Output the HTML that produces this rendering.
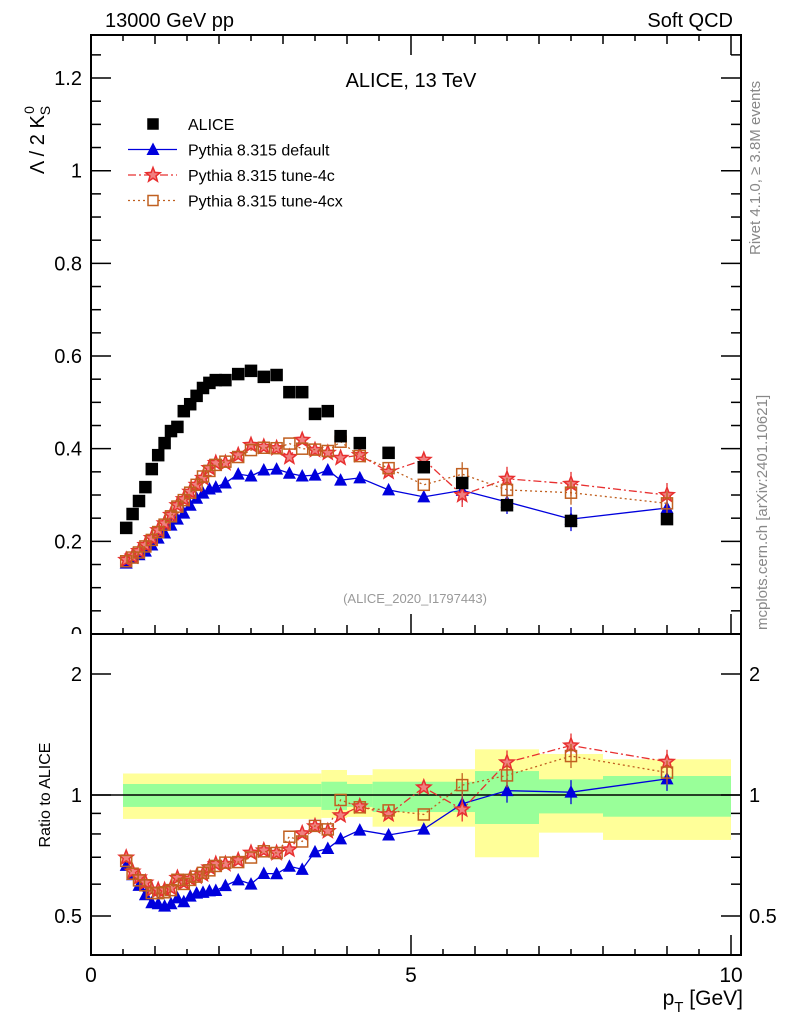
<!DOCTYPE html>
<html><head><meta charset="utf-8"><style>
body{margin:0;background:#fff}
svg{font-family:"Liberation Sans",sans-serif}
</style></head><body>
<svg id="c" width="786" height="1024" viewBox="0 0 786 1024" xmlns="http://www.w3.org/2000/svg">
<defs><clipPath id="mainclip"><rect x="0" y="0" width="786" height="634"/></clipPath></defs>
<text x="105" y="27" font-size="20">13000 GeV pp</text>
<text x="733" y="27" font-size="20" text-anchor="end">Soft QCD</text>
<text x="411" y="87" font-size="20" text-anchor="middle">ALICE, 13 TeV</text>
<text x="415" y="603" font-size="13" fill="#999" text-anchor="middle">(ALICE_2020_I1797443)</text>
<text transform="translate(760,255) rotate(-90)" font-size="15" fill="#888">Rivet 4.1.0, ≥ 3.8M events</text>
<text transform="translate(767,630) rotate(-90)" font-size="15" fill="#888">mcplots.cern.ch [arXiv:2401.10621]</text>
<text transform="translate(44,140) rotate(-90)" font-size="20" text-anchor="middle">Λ / 2 K<tspan font-size="14" dy="6">S</tspan><tspan font-size="14" dy="-16" dx="-8">0</tspan></text>
<text transform="translate(50,795) rotate(-90)" font-size="16" text-anchor="middle">Ratio to ALICE</text>
<text x="743" y="1005" font-size="21" text-anchor="end">p<tspan font-size="15" dy="7">T</tspan><tspan dy="-7"> [GeV]</tspan></text>
<g id="bands"></g><g id="axes"></g><g id="series"></g><g id="legend"></g>
</svg>
<script>
const aliceX=[0.55,0.65,0.75,0.85,0.95,1.05,1.15,1.25,1.35,1.45,1.55,1.65,1.75,1.85,1.95,2.1,2.3,2.5,2.7,2.9,3.1,3.3,3.5,3.7,3.9,4.2,4.65,5.2,5.8,6.5,7.5,9.0];
const aliceY=[0.229,0.259,0.287,0.317,0.356,0.386,0.412,0.438,0.447,0.481,0.496,0.514,0.531,0.542,0.548,0.548,0.561,0.568,0.555,0.559,0.522,0.522,0.475,0.481,0.427,0.412,0.391,0.360,0.326,0.278,0.244,0.248];
const defY=[0.153,0.164,0.171,0.179,0.192,0.207,0.218,0.235,0.248,0.261,0.278,0.293,0.304,0.313,0.317,0.326,0.345,0.341,0.354,0.356,0.347,0.341,0.343,0.354,0.332,0.337,0.311,0.296,0.310,0.285,0.248,0.272];
const t4cY=[0.160,0.167,0.179,0.192,0.207,0.224,0.239,0.257,0.278,0.291,0.307,0.322,0.337,0.358,0.369,0.369,0.386,0.408,0.404,0.401,0.382,0.419,0.397,0.391,0.380,0.386,0.350,0.376,0.300,0.335,0.324,0.300];
const t4cxY=[0.157,0.165,0.176,0.189,0.203,0.220,0.236,0.254,0.275,0.289,0.305,0.322,0.340,0.352,0.365,0.372,0.382,0.397,0.402,0.401,0.411,0.400,0.398,0.395,0.415,0.384,0.358,0.322,0.345,0.311,0.305,0.282];
const bandEdges=[0.5,3.6,4.0,4.4,6.0,7.0,8.0,10.0];
const yellowHi=[1.131,1.154,1.121,1.159,1.299,1.265,1.227];
const yellowLo=[0.872,0.877,0.882,0.834,0.700,0.806,0.773];
const greenHi=[1.065,1.079,1.065,1.079,1.147,1.094,1.115];
const greenLo=[0.934,0.918,0.934,0.907,0.847,0.900,0.883];
const yTicks=[0,0.2,0.4,0.6,0.8,1,1.2];
const yTickLabels=["0","0.2","0.4","0.6","0.8","1","1.2"];
const rTicks=[0.5,1,2];
const rTickLabels=["0.5","1","2"];
const xTicks=[0,5,10];
const xTickLabels=["0","5","10"];

const L=91,R=741,T=35,MB=634,B=955;
const sx=v=>91+v*64;
const sy=v=>634-v*463.3;
const sr=v=>795-121*Math.log2(v);
const NS="http://www.w3.org/2000/svg";
function mk(tag,attrs,parent){const e=document.createElementNS(NS,tag);for(const k in attrs)e.setAttribute(k,attrs[k]);parent.appendChild(e);return e;}
const axes=document.getElementById('axes'),bands=document.getElementById('bands'),series=document.getElementById('series'),legend=document.getElementById('legend');

for(let i=0;i<bandEdges.length-1;i++){
  const x0=sx(bandEdges[i]),x1=sx(bandEdges[i+1]);
  const y=mk('rect',{x:x0,y:sr(yellowHi[i]),width:x1-x0,height:sr(yellowLo[i])-sr(yellowHi[i]),fill:'#ffff99'},bands);
  
  
  const g=mk('rect',{x:x0,y:sr(greenHi[i]),width:x1-x0,height:sr(greenLo[i])-sr(greenHi[i]),fill:'#99ff99'},bands);
  
  
}
const one=mk('line',{x1:L,x2:R,y1:sr(1),y2:sr(1),stroke:'#000','stroke-width':1.5},bands);



const f1=mk('rect',{x:L,y:T,width:R-L,height:MB-T,fill:'none',stroke:'#000','stroke-width':2},axes);


const f2=mk('rect',{x:L,y:MB,width:R-L,height:B-MB,fill:'none',stroke:'#000','stroke-width':2},axes);



for(let v=0;v<=1.3;v+=0.05){
  const major=Math.abs(v/0.2-Math.round(v/0.2))<0.01;
  const len=major?20:10,y=sy(v);
  if(y<T)continue;
  mk('line',{x1:L,x2:L+len,y1:y,y2:y,stroke:'#000','stroke-width':1.5},axes);
  mk('line',{x1:R,x2:R-len,y1:y,y2:y,stroke:'#000','stroke-width':1.5},axes);
}
yTicks.forEach((v,i)=>{
  const t=mk('text',{x:L-9,y:sy(v)+7,'font-size':20,'text-anchor':'end','clip-path':'url(#mainclip)'},axes);
  t.textContent=yTickLabels[i];
  
  
});
[0.5,0.6,0.7,0.8,0.9,1,2].forEach(v=>{
  const major=rTicks.includes(v),len=major?20:10,y=sr(v);
  mk('line',{x1:L,x2:L+len,y1:y,y2:y,stroke:'#000','stroke-width':1.5},axes);
  mk('line',{x1:R,x2:R-len,y1:y,y2:y,stroke:'#000','stroke-width':1.5},axes);
});
rTicks.forEach((v,i)=>{
  const t=mk('text',{x:L-9,y:sr(v)+7,'font-size':20,'text-anchor':'end'},axes);
  t.textContent=rTickLabels[i];
  
  
  const t2=mk('text',{x:R+8,y:sr(v)+7,'font-size':20},axes);
  t2.textContent=rTickLabels[i];
  
  
});
for(let v=0;v<=10;v+=0.5){
  const major=v%5===0,len=major?20:(v%1===0?9:6);
  [MB,B].forEach(yb=>mk('line',{x1:sx(v),x2:sx(v),y1:yb,y2:yb-len,stroke:'#000','stroke-width':1.5},axes));
  mk('line',{x1:sx(v),x2:sx(v),y1:T,y2:T+len,stroke:'#000','stroke-width':1.5},axes);
}
xTicks.forEach((v,i)=>{
  const t=mk('text',{x:sx(v),y:B+27,'font-size':21,'text-anchor':'middle'},axes);
  t.textContent=xTickLabels[i];
  
  
});

function square(g,x,y,fill,stroke,s){mk('rect',{x:x-s,y:y-s,width:2*s,height:2*s,fill:fill,stroke:stroke,'stroke-width':1.5},g);}
function tri(g,x,y,c){mk('polygon',{points:`${x},${y-7} ${x-6.5},${y+5.5} ${x+6.5},${y+5.5}`,fill:c},g);}
function star(g,x,y,c){let p=[];for(let k=0;k<10;k++){const r=k%2?3.2:7.5,a=-Math.PI/2+k*Math.PI/5;p.push((x+r*Math.cos(a)).toFixed(1)+','+(y+r*Math.sin(a)).toFixed(1));}mk('polygon',{points:p.join(' '),fill:'#f08080',stroke:c,'stroke-width':1.5},g);}

function drawSeries(name,vals,color,dash,marker,ratio){
  const g=mk('g',{},series);
  
  
  const ys=vals.map((v,i)=>ratio?sr(v/aliceY[i]):sy(v));
  const d=aliceX.map((x,i)=>(i?'L':'M')+sx(x)+','+ys[i]).join(' ');
  mk('path',{d:d,fill:'none',stroke:color,'stroke-width':1.3,'stroke-dasharray':dash},g);
  aliceX.forEach((x,i)=>{
    if(i>=28){mk('line',{x1:sx(x),x2:sx(x),y1:ys[i]-12,y2:ys[i]+12,stroke:color,'stroke-width':1.3},g);}
    marker(g,sx(x),ys[i]);
  });
}
drawSeries('pythia-default-main',defY,'#0000dd','none',(g,x,y)=>tri(g,x,y,'#0000dd'),false);
drawSeries('pythia-tune-4c-main',t4cY,'#e83030','8,3,2,3',(g,x,y)=>star(g,x,y,'#e83030'),false);
drawSeries('pythia-tune-4cx-main',t4cxY,'#c06020','2,3',(g,x,y)=>square(g,x,y,'none','#c06020',5.5),false);
drawSeries('pythia-default-ratio',defY,'#0000dd','none',(g,x,y)=>tri(g,x,y,'#0000dd'),true);
drawSeries('pythia-tune-4c-ratio',t4cY,'#e83030','8,3,2,3',(g,x,y)=>star(g,x,y,'#e83030'),true);
drawSeries('pythia-tune-4cx-ratio',t4cxY,'#c06020','2,3',(g,x,y)=>square(g,x,y,'none','#c06020',5.5),true);
const ga=mk('g',{},series);


aliceX.forEach((x,i)=>square(ga,sx(x),sy(aliceY[i]),'#000','#000',5.5));

const items=[['ALICE','#000'],['Pythia 8.315 default','#0000dd'],['Pythia 8.315 tune-4c','#e83030'],['Pythia 8.315 tune-4cx','#c06020']];
items.forEach((it,i)=>{
  const y=124+i*25.5;
  const g=mk('g',{},legend);
  
  
  if(i===0)square(g,153,y,'#000','#000',5);
  else{
    mk('line',{x1:128,x2:177,y1:y,y2:y,stroke:it[1],'stroke-width':1.3,'stroke-dasharray':i===1?'none':(i===2?'8,3,2,3':'2,3')},g);
    if(i===1)tri(g,153,y,it[1]);else if(i===2)star(g,153,y,it[1]);else square(g,153,y,'#fff',it[1],5);
  }
  const t=mk('text',{x:188,y:y+6,'font-size':16},g);
  t.textContent=it[0];
});
</script>
</body></html>
